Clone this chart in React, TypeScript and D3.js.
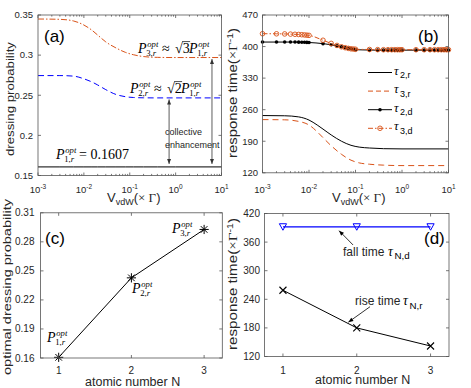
import React, { useRef, useEffect } from "react";
import * as d3 from "d3";

// (a) optimal dressing probability vs V_vdW
const vSmooth = [0.001, 0.003, 0.006, 0.01, 0.015, 0.02, 0.03, 0.05, 0.08, 0.12, 0.2, 0.4, 1, 10];
const pOpt1 = [0.1607, 0.1607, 0.1607, 0.1607, 0.1607, 0.1607, 0.1607, 0.1607, 0.1607, 0.1607, 0.1607, 0.1607, 0.1607, 0.1607];
const pOpt2 = [0.2745, 0.2745, 0.2738, 0.2705, 0.2665, 0.2628, 0.257, 0.251, 0.2482, 0.2472, 0.2468, 0.2467, 0.2467, 0.2467];
const pOpt3 = [0.345, 0.3446, 0.3425, 0.3375, 0.331, 0.325, 0.3165, 0.309, 0.3035, 0.3005, 0.2982, 0.2972, 0.297, 0.297];

// (b) response times vs V_vdW
const tau2r = [247, 246.5, 244, 237, 226, 217, 204, 190, 181, 177, 175, 173.5, 173, 173];
const tau3r = [238, 237.5, 234, 226, 211, 198, 180, 161, 148, 142, 139, 137, 136, 136];
const vMarkers = [
  0.001, 0.002, 0.003, 0.004, 0.005, 0.006, 0.007, 0.008, 0.009,
  0.01, 0.02, 0.03, 0.04, 0.05, 0.06, 0.07, 0.08, 0.09,
  0.1, 0.2, 0.3, 0.4, 0.5, 0.6, 0.7, 0.8, 0.9,
  1, 2, 3, 4, 5, 6, 7, 8, 9, 10,
];
const tau2d = [
  410, 410, 410, 410, 410, 409.8, 409.6, 409.4, 409.2,
  409, 406.5, 404, 401.5, 399.5, 397.5, 396, 395, 394,
  393, 392.2, 392, 392, 392, 392, 392, 392, 392,
  392, 392, 392, 392, 392, 392, 392, 392, 392, 392,
];
const tau3d = [
  428.5, 428.3, 428, 427.6, 427.2, 426.8, 426.3, 425.8, 425.3,
  424.8, 414, 407, 402.5, 399.5, 397.5, 396, 395, 394.5,
  394, 393.5, 393.2, 393, 393, 393, 393, 393, 393,
  393, 393, 393, 393, 393, 393, 393, 393, 393, 393,
];

// (c) and (d) vs atomic number
const atomN = [1, 2, 3];
const pOptN = [0.1607, 0.2428, 0.2928];
const fallTime = [392, 392, 392];
const riseTime = [259, 180, 142];

const yTicksA = [0.15, 0.2, 0.25, 0.3, 0.35];
const yTicksB = [120, 190, 260, 330, 400, 470];
const yTicksC = [0.16, 0.19, 0.22, 0.25, 0.28, 0.31];
const yTicksD = [120, 180, 240, 300, 360, 420];

const SANS = "'Liberation Sans', Arial, Helvetica, sans-serif";
const SERIF = "'Liberation Serif', 'Times New Roman', serif";
const INK = "#262626";
const EDGE = "#555";
const ORANGE = "#D95319";
const BLUE = "#0000FF";

type Sel = d3.Selection<any, unknown, null, undefined>;

function frame(g: Sel, x0: number, x1: number, y0: number, y1: number) {
  g.append("rect")
    .attr("x", x0).attr("y", y0)
    .attr("width", x1 - x0).attr("height", y1 - y0)
    .attr("fill", "none").attr("stroke", EDGE).attr("stroke-width", 0.8);
}

function logXAxis(g: Sel, x: any, y: any, labelY: number) {
  const [y1, y0] = y.range();
  x.ticks().forEach((v: number) => {
    const e = Math.log10(v);
    const major = Math.abs(e - Math.round(e)) < 1e-6;
    const len = major ? 3 : 1.6;
    const px = x(v);
    g.append("line").attr("x1", px).attr("x2", px).attr("y1", y1).attr("y2", y1 - len)
      .attr("stroke", EDGE).attr("stroke-width", 0.8);
    g.append("line").attr("x1", px).attr("x2", px).attr("y1", y0).attr("y2", y0 + len)
      .attr("stroke", EDGE).attr("stroke-width", 0.8);
    if (major) {
      const t = g.append("text").attr("x", px).attr("y", labelY)
        .attr("text-anchor", "middle").attr("font-family", SANS)
        .attr("font-size", 9.5).attr("fill", INK);
      t.append("tspan").text("10");
      t.append("tspan").attr("dy", -4).attr("font-size", 6.5).text(String(Math.round(e)));
    }
  });
}

function linXAxis(g: Sel, x: any, y: any, ticks: number[], labelY: number) {
  const [y1, y0] = y.range();
  ticks.forEach(v => {
    const px = x(v);
    g.append("line").attr("x1", px).attr("x2", px).attr("y1", y1).attr("y2", y1 - 3)
      .attr("stroke", EDGE).attr("stroke-width", 0.8);
    g.append("line").attr("x1", px).attr("x2", px).attr("y1", y0).attr("y2", y0 + 3)
      .attr("stroke", EDGE).attr("stroke-width", 0.8);
    g.append("text").attr("x", px).attr("y", labelY).attr("text-anchor", "middle")
      .attr("font-family", SANS).attr("font-size", 10).attr("fill", INK).text(String(v));
  });
}

function yAxis(g: Sel, x: any, y: any, ticks: number[], fmt: (v: number) => string, gap: number, fs: number) {
  const [x0, x1] = x.range();
  ticks.forEach(v => {
    const py = y(v);
    g.append("line").attr("x1", x0).attr("x2", x0 + 3).attr("y1", py).attr("y2", py)
      .attr("stroke", EDGE).attr("stroke-width", 0.8);
    g.append("line").attr("x1", x1 - 3).attr("x2", x1).attr("y1", py).attr("y2", py)
      .attr("stroke", EDGE).attr("stroke-width", 0.8);
    g.append("text").attr("x", x0 - gap).attr("y", py).attr("dy", "0.35em")
      .attr("text-anchor", "end").attr("font-family", SANS).attr("font-size", fs)
      .attr("fill", INK).text(fmt(v));
  });
}

function yLabel(g: Sel, x: number, y: number, len: number, fs: number, parts: (t: Sel) => void) {
  const t = g.append("text")
    .attr("transform", `translate(${x},${y}) rotate(-90)`)
    .attr("text-anchor", "middle").attr("font-family", SANS).attr("font-size", fs)
    .attr("fill", INK).attr("textLength", len).attr("lengthAdjust", "spacingAndGlyphs");
  parts(t);
}

function responseParts(t: Sel) {
  t.append("tspan").text("response time(");
  t.append("tspan").attr("font-family", SERIF).text("×Γ");
  t.append("tspan").attr("dy", -4).attr("font-size", "0.7em").text("-1");
  t.append("tspan").attr("dy", 4).text(")");
}

function vLabel(g: Sel, x: number, y: number) {
  const t = g.append("text").attr("x", x).attr("y", y).attr("font-family", SANS)
    .attr("font-size", 13).attr("fill", INK);
  t.append("tspan").text("V");
  t.append("tspan").attr("dy", 3).attr("font-size", 9).text("vdW");
  t.append("tspan").attr("dy", -3).text("(");
  t.append("tspan").attr("font-family", SERIF).text("× Γ");
  t.append("tspan").text(")");
}

function pLabel(g: Sel, x: number, y: number, sub: string, fs: number) {
  g.append("text").attr("x", x).attr("y", y).attr("font-family", SERIF)
    .attr("font-style", "italic").attr("font-size", fs).attr("fill", "#000").text("P");
  const w = fs * 0.66;
  g.append("text").attr("x", x + w).attr("y", y - fs * 0.36).attr("font-family", SERIF)
    .attr("font-style", "italic").attr("font-size", fs * 0.62).attr("fill", "#000").text("opt");
  const s = g.append("text").attr("x", x + w - 1).attr("y", y + fs * 0.24).attr("font-family", SERIF)
    .attr("font-size", fs * 0.62).attr("fill", "#000");
  const [a, b] = sub.split(",");
  s.append("tspan").text(a + ",");
  s.append("tspan").attr("font-style", "italic").text(b);
}

function sqrtLabel(g: Sel, x: number, y: number, n: string, fs: number) {
  g.append("text").attr("x", x).attr("y", y).attr("font-family", SERIF)
    .attr("font-size", fs).attr("fill", "#000").text("√");
  g.append("text").attr("x", x + fs * 0.55).attr("y", y).attr("font-family", SERIF)
    .attr("font-size", fs).attr("fill", "#000").text(n);
  g.append("line").attr("x1", x + fs * 0.5).attr("x2", x + fs * 1.08)
    .attr("y1", y - fs * 0.78).attr("y2", y - fs * 0.78)
    .attr("stroke", "#000").attr("stroke-width", 0.7);
}

function arrow(g: Sel, x1: number, y1: number, x2: number, y2: number, both: boolean, color: string) {
  g.append("line").attr("x1", x1).attr("y1", y1).attr("x2", x2).attr("y2", y2)
    .attr("stroke", color).attr("stroke-width", 0.8);
  const head = (hx: number, hy: number, fx: number, fy: number) => {
    const ang = Math.atan2(hy - fy, hx - fx);
    const L = 5, W = 2;
    const bx = hx - L * Math.cos(ang), by = hy - L * Math.sin(ang);
    const px = -Math.sin(ang) * W, py = Math.cos(ang) * W;
    g.append("path")
      .attr("d", `M${hx},${hy}L${bx + px},${by + py}L${bx - px},${by - py}Z`)
      .attr("fill", color);
  };
  head(x2, y2, x1, y1);
  if (both) head(x1, y1, x2, y2);
}

function tauText(g: Sel, x: number, y: number, sub: string, fs: number) {
  g.append("text").attr("x", x).attr("y", y).attr("font-family", SERIF)
    .attr("font-style", "italic").attr("font-size", fs * 1.05).attr("fill", "#000").text("τ");
  g.append("text").attr("x", x + fs * 0.5).attr("y", y + fs * 0.3).attr("font-family", SANS)
    .attr("font-size", fs * 0.75).attr("fill", "#000").text(sub);
}

export default function App() {
  const ref = useRef<SVGSVGElement>(null);

  useEffect(() => {
    const svg = d3.select(ref.current);
    svg.selectAll("*").remove();

    // ---------- (a) ----------
    const ga = svg.append("g");
    const xA = d3.scaleLog().domain([1e-3, 10]).range([38, 221.5]);
    const yA = d3.scaleLinear().domain([0.15, 0.35]).range([175.5, 15]);
    const lineA = (ys: number[]) =>
      d3.line<number>().x((_, i) => xA(vSmooth[i])).y(d => yA(d)).curve(d3.curveMonotoneX)(ys);

    ga.append("path").attr("d", lineA(pOpt1)).attr("fill", "none").attr("stroke", "#000").attr("stroke-width", 1);
    ga.append("path").attr("d", lineA(pOpt2)).attr("fill", "none").attr("stroke", BLUE)
      .attr("stroke-width", 1).attr("stroke-dasharray", "6,3.5");
    ga.append("path").attr("d", lineA(pOpt3)).attr("fill", "none").attr("stroke", ORANGE)
      .attr("stroke-width", 1).attr("stroke-dasharray", "6,2,1.5,2");
    frame(ga, 38, 221.5, 15, 175.5);
    logXAxis(ga, xA, yA, 192.5);
    yAxis(ga, xA, yA, yTicksA, v => String(v), 5, 9.5);

    pLabel(ga, 138, 52.5, "3,r", 14);
    ga.append("text").attr("x", 162).attr("y", 52.5).attr("font-family", SERIF).attr("font-size", 14).text("≈");
    sqrtLabel(ga, 175, 52.5, "3", 14);
    pLabel(ga, 189, 52.5, "1,r", 14);

    pLabel(ga, 130, 92.5, "2,r", 14);
    ga.append("text").attr("x", 154).attr("y", 92.5).attr("font-family", SERIF).attr("font-size", 14).text("≈");
    sqrtLabel(ga, 167, 92.5, "2", 14);
    pLabel(ga, 181, 92.5, "1,r", 14);

    pLabel(ga, 56, 158.5, "1,r", 14);
    ga.append("text").attr("x", 79).attr("y", 158.5).attr("font-family", SERIF).attr("font-size", 14).text("= 0.1607");

    const v1 = 0.72, v2 = 6.2;
    arrow(ga, xA(v1), yA(pOpt2[pOpt2.length - 1]) + 1.5, xA(v1), yA(pOpt1[0]) - 3, true, "#333");
    arrow(ga, xA(v2), yA(pOpt3[pOpt3.length - 1]) + 1.5, xA(v2), yA(pOpt1[0]) - 3, true, "#333");
    ga.append("text").attr("x", 165).attr("y", 134.5).attr("font-family", SANS).attr("font-size", 9)
      .attr("fill", INK).text("collective");
    ga.append("text").attr("x", 165).attr("y", 147.5).attr("font-family", SANS).attr("font-size", 9)
      .attr("fill", INK).text("enhancement");

    ga.append("text").attr("x", 44).attr("y", 41.5).attr("font-family", SANS).attr("font-size", 17).text("(a)");
    yLabel(ga, 14, 99, 114, 11.5, t => t.text("dressing probability"));
    vLabel(ga, 107, 202);

    // ---------- (b) ----------
    const gb = svg.append("g");
    const xB = d3.scaleLog().domain([1e-3, 10]).range([262.5, 448.5]);
    const yB = d3.scaleLinear().domain([120, 470]).range([172.8, 15]);
    const lineB = (xs: number[], ys: number[]) =>
      d3.line<number>().x((_, i) => xB(xs[i])).y(d => yB(d)).curve(d3.curveMonotoneX)(ys);

    gb.append("path").attr("d", lineB(vSmooth, tau2r)).attr("fill", "none").attr("stroke", "#000").attr("stroke-width", 1);
    gb.append("path").attr("d", lineB(vSmooth, tau3r)).attr("fill", "none").attr("stroke", ORANGE)
      .attr("stroke-width", 1).attr("stroke-dasharray", "6,4");
    gb.append("path").attr("d", lineB(vMarkers, tau2d)).attr("fill", "none").attr("stroke", "#000").attr("stroke-width", 1);
    gb.selectAll(".d2").data(tau2d).enter().append("circle")
      .attr("cx", (_, i) => xB(vMarkers[i])).attr("cy", d => yB(d)).attr("r", 1.8).attr("fill", "#000");
    gb.append("path").attr("d", lineB(vMarkers, tau3d)).attr("fill", "none").attr("stroke", ORANGE)
      .attr("stroke-width", 1).attr("stroke-dasharray", "5,2,1.5,2");
    gb.selectAll(".d3").data(tau3d).enter().append("circle")
      .attr("cx", (_, i) => xB(vMarkers[i])).attr("cy", d => yB(d)).attr("r", 2.3)
      .attr("fill", "none").attr("stroke", ORANGE).attr("stroke-width", 0.9);
    frame(gb, 262.5, 448.5, 15, 172.8);
    logXAxis(gb, xB, yB, 192.5);
    yAxis(gb, xB, yB, yTicksB, v => String(v), 4.5, 9.5);

    const legend = [
      { sub: "2,r", color: "#000", dash: null, mark: null },
      { sub: "3,r", color: ORANGE, dash: "5,3", mark: null },
      { sub: "2,d", color: "#000", dash: null, mark: "dot" },
      { sub: "3,d", color: ORANGE, dash: "5,2,1.5,2", mark: "ring" },
    ];
    legend.forEach((d, i) => {
      const ly = 72.5 + i * 18.6;
      const l = gb.append("line").attr("x1", 368).attr("x2", 392).attr("y1", ly).attr("y2", ly)
        .attr("stroke", d.color).attr("stroke-width", 1);
      if (d.dash) l.attr("stroke-dasharray", d.dash);
      if (d.mark === "dot") gb.append("circle").attr("cx", 380).attr("cy", ly).attr("r", 1.8).attr("fill", "#000");
      if (d.mark === "ring") gb.append("circle").attr("cx", 380).attr("cy", ly).attr("r", 2.3)
        .attr("fill", "none").attr("stroke", ORANGE).attr("stroke-width", 0.9);
      tauText(gb, 394, ly + 2, d.sub, 12);
    });

    gb.append("text").attr("x", 418).attr("y", 41.5).attr("font-family", SANS).attr("font-size", 17).text("(b)");
    yLabel(gb, 237, 93, 130, 12, responseParts);
    vLabel(gb, 332, 202);

    // ---------- (c) ----------
    const gc = svg.append("g");
    const xC = d3.scaleLinear().domain([0.75, 3.25]).range([40.5, 222.3]);
    const yC = d3.scaleLinear().domain([0.16, 0.31]).range([358, 212.8]);
    gc.append("path")
      .attr("d", d3.line<number>().x((_, i) => xC(atomN[i])).y(d => yC(d))(pOptN))
      .attr("fill", "none").attr("stroke", "#000").attr("stroke-width", 1);
    const s = 4.6, a = s * 0.72;
    gc.selectAll(".ast").data(pOptN).enter().append("path")
      .attr("transform", (d, i) => `translate(${xC(atomN[i])},${yC(d)})`)
      .attr("d", `M${-s},0H${s}M0,${-s}V${s}M${-a},${-a}L${a},${a}M${-a},${a}L${a},${-a}`)
      .attr("stroke", "#000").attr("stroke-width", 1).attr("fill", "none");
    frame(gc, 40.5, 222.3, 212.8, 358);
    linXAxis(gc, xC, yC, atomN, 374);
    yAxis(gc, xC, yC, yTicksC, v => d3.format(".2f")(v), 6, 10);
    pLabel(gc, 172, 232.5, "3,r", 14);
    pLabel(gc, 132, 292.5, "2,r", 14);
    pLabel(gc, 47, 341.5, "1,r", 14);
    gc.append("text").attr("x", 45).attr("y", 243.5).attr("font-family", SANS).attr("font-size", 17).text("(c)");
    yLabel(gc, 10.5, 287, 176, 11, t => t.text("optimal dressing probability"));
    gc.append("text").attr("x", 85).attr("y", 385.5).attr("font-family", SANS).attr("font-size", 12.5)
      .attr("fill", INK).text("atomic number N");

    // ---------- (d) ----------
    const gd = svg.append("g");
    const xD = d3.scaleLinear().domain([0.75, 3.25]).range([264.5, 449]);
    const yD = d3.scaleLinear().domain([120, 420]).range([356.5, 213.5]);
    const lineD = d3.line<number>().x((_, i) => xD(atomN[i])).y(d => yD(d));
    gd.append("path").attr("d", lineD(fallTime)).attr("fill", "none").attr("stroke", BLUE).attr("stroke-width", 1.1);
    gd.selectAll(".tri").data(fallTime).enter().append("path")
      .attr("transform", (d, i) => `translate(${xD(atomN[i])},${yD(d)})`)
      .attr("d", "M-3.6,-3.1L3.6,-3.1L0,3.4Z")
      .attr("fill", "none").attr("stroke", BLUE).attr("stroke-width", 1);
    gd.append("path").attr("d", lineD(riseTime)).attr("fill", "none").attr("stroke", "#000").attr("stroke-width", 1);
    gd.selectAll(".xm").data(riseTime).enter().append("path")
      .attr("transform", (d, i) => `translate(${xD(atomN[i])},${yD(d)})`)
      .attr("d", "M-3.5,-3.5L3.5,3.5M-3.5,3.5L3.5,-3.5")
      .attr("stroke", "#000").attr("stroke-width", 1.1);
    frame(gd, 264.5, 449, 213.5, 356.5);
    linXAxis(gd, xD, yD, atomN, 373.5);
    yAxis(gd, xD, yD, yTicksD, v => String(v), 4.5, 10);

    arrow(gd, xD(1.95), yD(354), xD(1.76), yD(384), false, "#000");
    gd.append("text").attr("x", 343).attr("y", 255.5).attr("font-family", SANS).attr("font-size", 12)
      .attr("fill", INK).text("fall time");
    tauText(gd, 388, 255.5, "N,d", 13);
    arrow(gd, xD(2.18), yD(224.5), xD(1.886), yD(192), false, "#000");
    gd.append("text").attr("x", 355).attr("y", 305).attr("font-family", SANS).attr("font-size", 12)
      .attr("fill", INK).text("rise time");
    tauText(gd, 403, 305, "N,r", 13);

    gd.append("text").attr("x", 424).attr("y", 243.5).attr("font-family", SANS).attr("font-size", 17).text("(d)");
    yLabel(gd, 237, 284, 132, 12, responseParts);
    gd.append("text").attr("x", 315).attr("y", 384).attr("font-family", SANS).attr("font-size", 12.5)
      .attr("fill", INK).text("atomic number N");
  }, []);

  return (
    <svg
      ref={ref}
      width={471}
      height={388}
      style={{ position: "absolute", left: 0, top: 0, background: "#fff" }}
    />
  );
}
